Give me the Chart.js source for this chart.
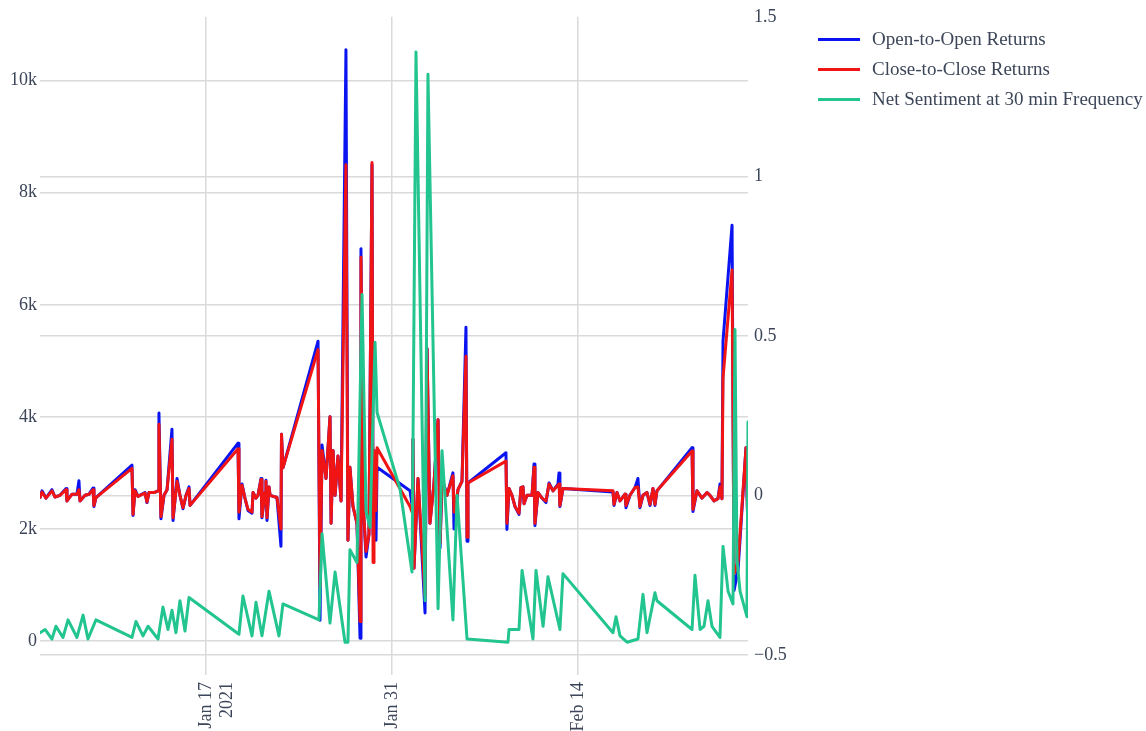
<!DOCTYPE html>
<html>
<head>
<meta charset="utf-8">
<script src="https://cdn.jsdelivr.net/npm/chart.js@4.4.1/dist/chart.umd.min.js"></script>
<style>
  body { margin: 0; background: #fff; overflow: hidden; }
  #wrap { position: relative; width: 1146px; height: 731px; }
  #legend { position: absolute; left: 818px; top: 25px; font-family: "Liberation Serif", "Times New Roman", serif; font-size: 19px; color: #3c4658; }
  #legend div { height: 30px; line-height: 28px; white-space: nowrap; }
  #legend span.swatch { display: inline-block; width: 42px; height: 3px; vertical-align: middle; margin-right: 12px; position: relative; top: -1px; }
</style>
</head>
<body>
<div id="wrap">
  <canvas id="chart" width="1146" height="731"></canvas>
  <div id="legend"></div>
</div>
<script>
// x values are day numbers of 2021 (Jan 1 = 1)
var priceDays = [
  4.51, 4.66, 4.96, 5.41, 5.64, 6.01, 6.47, 6.54, 6.92, 7.29, 7.44, 7.52, 7.90, 8.20, 8.50, 8.57, 8.72,
  11.43, 11.51, 11.66, 11.88, 12.41, 12.56, 12.71, 13.09, 13.39, 13.46, 13.61, 13.84, 14.07, 14.44, 14.52, 14.82, 15.04, 15.27, 15.50, 15.72, 15.80,
  19.41, 19.48, 19.71, 19.93, 20.16, 20.46, 20.54, 20.76, 20.91, 21.14, 21.21, 21.44, 21.51, 21.59, 21.74, 21.82, 22.34, 22.64, 22.68, 22.79,
  25.43, 25.58, 25.73, 26.03, 26.33, 26.41, 26.56, 26.71, 26.93, 27.16, 27.53, 27.68, 27.83, 28.06, 28.36, 28.59, 28.66, 28.81, 29.04, 29.26, 29.49, 29.57, 29.64, 29.79, 29.87,
  32.35, 32.50, 32.57, 32.65, 32.95, 33.48, 33.63, 33.85, 34.15, 34.46, 34.61, 34.76, 35.13, 35.58, 35.66, 35.96, 36.26, 36.56, 36.64, 36.71,
  39.57, 39.64, 39.80, 40.02, 40.25, 40.55, 40.70, 40.85, 40.93, 41.15, 41.53, 41.68, 41.75, 41.98, 42.28, 42.58, 42.81, 43.11, 43.48, 43.56, 43.63, 43.86,
  47.62, 47.70, 47.92, 48.15, 48.53, 48.60, 48.90, 49.28, 49.50, 49.65, 49.88, 50.18, 50.41, 50.63, 50.78, 50.93,
  53.57, 53.64, 53.94, 54.32, 54.70, 54.92, 55.22, 55.52, 55.67, 55.82, 55.90, 56.58, 56.73, 57.03, 57.63, 57.78
];

var openReturns = [
  2560, 2680, 2550, 2700, 2570, 2600, 2720, 2500, 2620, 2620, 2860, 2500, 2600, 2620, 2730, 2400, 2560,
  3140, 2240, 2700, 2580, 2650, 2470, 2650, 2650, 2680, 4070, 2180, 2600, 2700, 3780, 2150, 2900, 2600, 2360, 2600, 2750, 2420,
  3530, 2180, 2800, 2550, 2330, 2280, 2650, 2550, 2600, 2900, 2200, 2650, 2870, 2150, 2750, 2600, 2560, 1690, 3690, 3090,
  5350, 370, 3500, 2900, 4000, 2100, 3400, 2600, 3300, 2500, 10550, 1800, 3100, 2400, 2100, 50, 7000, 2500, 1500, 1900, 8500, 1900, 3400, 1800, 3100,
  2680, 2430, 3600, 1300, 2900, 500, 5220, 2100, 2800, 3950, 1660, 2900, 2600, 3000, 2000, 2700, 2850, 5600, 1780, 2820,
  3360, 1990, 2720, 2600, 2400, 2260, 2740, 2750, 2450, 2600, 2600, 3160, 2060, 2650, 2550, 2470, 2820, 2680, 2800, 3000, 2400, 2720,
  2660, 2420, 2650, 2500, 2620, 2380, 2600, 2740, 2900, 2380, 2600, 2650, 2420, 2720, 2420, 2680,
  3450, 2310, 2680, 2550, 2650, 2600, 2500, 2540, 2800, 2540, 5350, 7420, 900, 1260, 3450, 1900
];

var closeReturns = [
  2560, 2660, 2550, 2680, 2570, 2600, 2700, 2500, 2620, 2620, 2700, 2500, 2600, 2620, 2700, 2420, 2560,
  3080, 2260, 2680, 2580, 2640, 2480, 2650, 2650, 2680, 3870, 2220, 2600, 2700, 3600, 2200, 2850, 2600, 2380, 2600, 2720, 2420,
  3430, 2300, 2780, 2550, 2350, 2300, 2650, 2550, 2600, 2880, 2220, 2650, 2850, 2200, 2750, 2600, 2560, 2000, 3690, 3090,
  5200, 960, 3400, 2900, 4000, 2100, 3400, 2600, 3300, 2500, 8500, 1800, 3100, 2400, 2100, 350, 6850, 2500, 1600, 1900, 8540, 1400, 3400, 2330, 3450,
  2400, 2300, 3600, 1300, 2900, 800, 5220, 2100, 2800, 3950, 1750, 2900, 2600, 2950, 2300, 2700, 2850, 5080, 1850, 2820,
  3210, 2100, 2720, 2600, 2400, 2280, 2740, 2750, 2450, 2600, 2600, 3100, 2100, 2650, 2550, 2500, 2800, 2680, 2780, 2800, 2420, 2720,
  2680, 2440, 2650, 2500, 2620, 2420, 2600, 2740, 2750, 2400, 2600, 2650, 2440, 2720, 2440, 2680,
  3390, 2350, 2680, 2550, 2650, 2600, 2500, 2540, 2750, 2540, 4690, 6620, 1200, 1400, 3450, 1900
];

var sentimentDays = [
  4.51, 4.89, 5.41, 5.71, 6.24, 6.62, 7.29, 7.75, 8.12, 8.72,
  11.43, 11.73, 12.26, 12.64, 13.39, 13.76, 14.14, 14.44, 14.74, 15.04, 15.42, 15.72,
  19.48, 19.78, 20.46, 20.76, 21.21, 21.74, 22.49, 22.79,
  25.50, 25.73, 26.33, 26.71, 27.46, 27.68, 27.83, 28.36, 28.74, 29.04, 29.34, 29.72, 29.87,
  31.60, 32.50, 32.80, 33.48, 33.70, 34.46, 34.76, 35.58, 35.89, 36.64,
  39.72, 39.80, 40.55, 40.78, 41.60, 41.83, 42.36, 42.73, 43.63, 43.86,
  47.62, 47.85, 48.15, 48.68, 49.50, 49.88, 50.18, 50.78, 50.93,
  53.57, 53.79, 54.17, 54.47, 54.77, 55.07, 55.67, 55.90, 56.28, 56.65, 56.80, 56.95, 57.18, 57.70, 57.78
];

var netSentiment = [
  -0.43, -0.42, -0.45, -0.41, -0.445, -0.39, -0.445, -0.375, -0.45, -0.39,
  -0.445, -0.395, -0.44, -0.41, -0.45, -0.35, -0.42, -0.36, -0.43, -0.33, -0.425, -0.32,
  -0.435, -0.315, -0.44, -0.335, -0.44, -0.30, -0.44, -0.34,
  -0.39, -0.12, -0.40, -0.24, -0.46, -0.46, -0.17, -0.21, 0.63, -0.05, -0.10, 0.48, 0.26,
  0.02, -0.24, 1.39, -0.33, 1.32, -0.355, 0.14, -0.39, 0.0, -0.45,
  -0.46, -0.42, -0.42, -0.235, -0.45, -0.235, -0.41, -0.255, -0.42, -0.245,
  -0.43, -0.38, -0.44, -0.46, -0.45, -0.31, -0.43, -0.305, -0.33,
  -0.42, -0.25, -0.42, -0.41, -0.33, -0.41, -0.445, -0.16, -0.30, -0.34, 0.52, -0.20, -0.30, -0.38, 0.23
];

var seriesNames = ["Open-to-Open Returns", "Close-to-Close Returns", "Net Sentiment at 30 min Frequency"];
var seriesColors = ["#0a14f0", "#f01414", "#22c48f"];

var xTickDays = [17, 31, 45];
var xTickLabels = [["Jan 17", "2021"], "Jan 31", "Feb 14"];
var leftTicks = [0, 2000, 4000, 6000, 8000, 10000];
var rightTicks = [-0.5, 0, 0.5, 1, 1.5];

var tickFont = { family: "'Liberation Serif', 'Times New Roman', serif", size: 18 };
var tickColor = "#3c4658";
var gridColor = "#dadada";

function points(xs, ys) {
  return xs.map(function (x, i) { return { x: x, y: ys[i] }; });
}

function fixTicks(values) {
  return function (axis) {
    axis.ticks = values.map(function (v) { return { value: v }; });
  };
}

new Chart(document.getElementById("chart"), {
  type: "line",
  data: {
    datasets: [
      { label: seriesNames[0], data: points(priceDays, openReturns), yAxisID: "y", borderColor: seriesColors[0], order: 3 },
      { label: seriesNames[1], data: points(priceDays, closeReturns), yAxisID: "y", borderColor: seriesColors[1], order: 2 },
      { label: seriesNames[2], data: points(sentimentDays, netSentiment), yAxisID: "y2", borderColor: seriesColors[2], order: 1 }
    ]
  },
  options: {
    responsive: false,
    animation: false,
    devicePixelRatio: 1,
    layout: { padding: { left: 0, right: 348, top: 14, bottom: 0 } },
    elements: {
      line: { borderWidth: 3, tension: 0, borderJoinStyle: "round", borderCapStyle: "round" },
      point: { radius: 0 }
    },
    plugins: { legend: { display: false }, tooltip: { enabled: false } },
    scales: {
      x: {
        type: "linear",
        min: 4.51,
        max: 57.78,
        afterBuildTicks: fixTicks(xTickDays),
        afterFit: function (s) { s.height = 76; },
        border: { display: false },
        grid: { color: gridColor, lineWidth: 1.5, drawTicks: true, tickLength: 20 },
        ticks: {
          font: tickFont,
          color: tickColor,
          minRotation: 90,
          maxRotation: 90,
          padding: 7,
          callback: function (v) {
            var i = xTickDays.indexOf(v);
            return i >= 0 ? xTickLabels[i] : "";
          }
        }
      },
      y: {
        position: "left",
        min: -250,
        max: 11140,
        afterBuildTicks: fixTicks(leftTicks),
        afterFit: function (s) { s.width = 40; },
        border: { display: false },
        grid: { color: gridColor, lineWidth: 1.5, drawTicks: false },
        ticks: {
          font: tickFont,
          color: tickColor,
          padding: 3,
          callback: function (v) { return v === 0 ? "0" : (v / 1000) + "k"; }
        }
      },
      y2: {
        position: "right",
        min: -0.5,
        max: 1.5,
        afterBuildTicks: fixTicks(rightTicks),
        afterFit: function (s) { s.width = 50; },
        border: { display: false },
        grid: {
          color: function (ctx) { return ctx.tick && ctx.tick.value === 1.5 ? "rgba(0,0,0,0)" : gridColor; },
          lineWidth: 1.5,
          drawTicks: false
        },
        ticks: {
          font: tickFont,
          color: tickColor,
          padding: 6,
          callback: function (v) { return String(v).replace("-", "\u2212"); }
        }
      }
    }
  }
});

var legend = document.getElementById("legend");
seriesNames.forEach(function (name, i) {
  var row = document.createElement("div");
  var sw = document.createElement("span");
  sw.className = "swatch";
  sw.style.background = seriesColors[i];
  row.appendChild(sw);
  row.appendChild(document.createTextNode(name));
  legend.appendChild(row);
});
</script>
</body>
</html>
